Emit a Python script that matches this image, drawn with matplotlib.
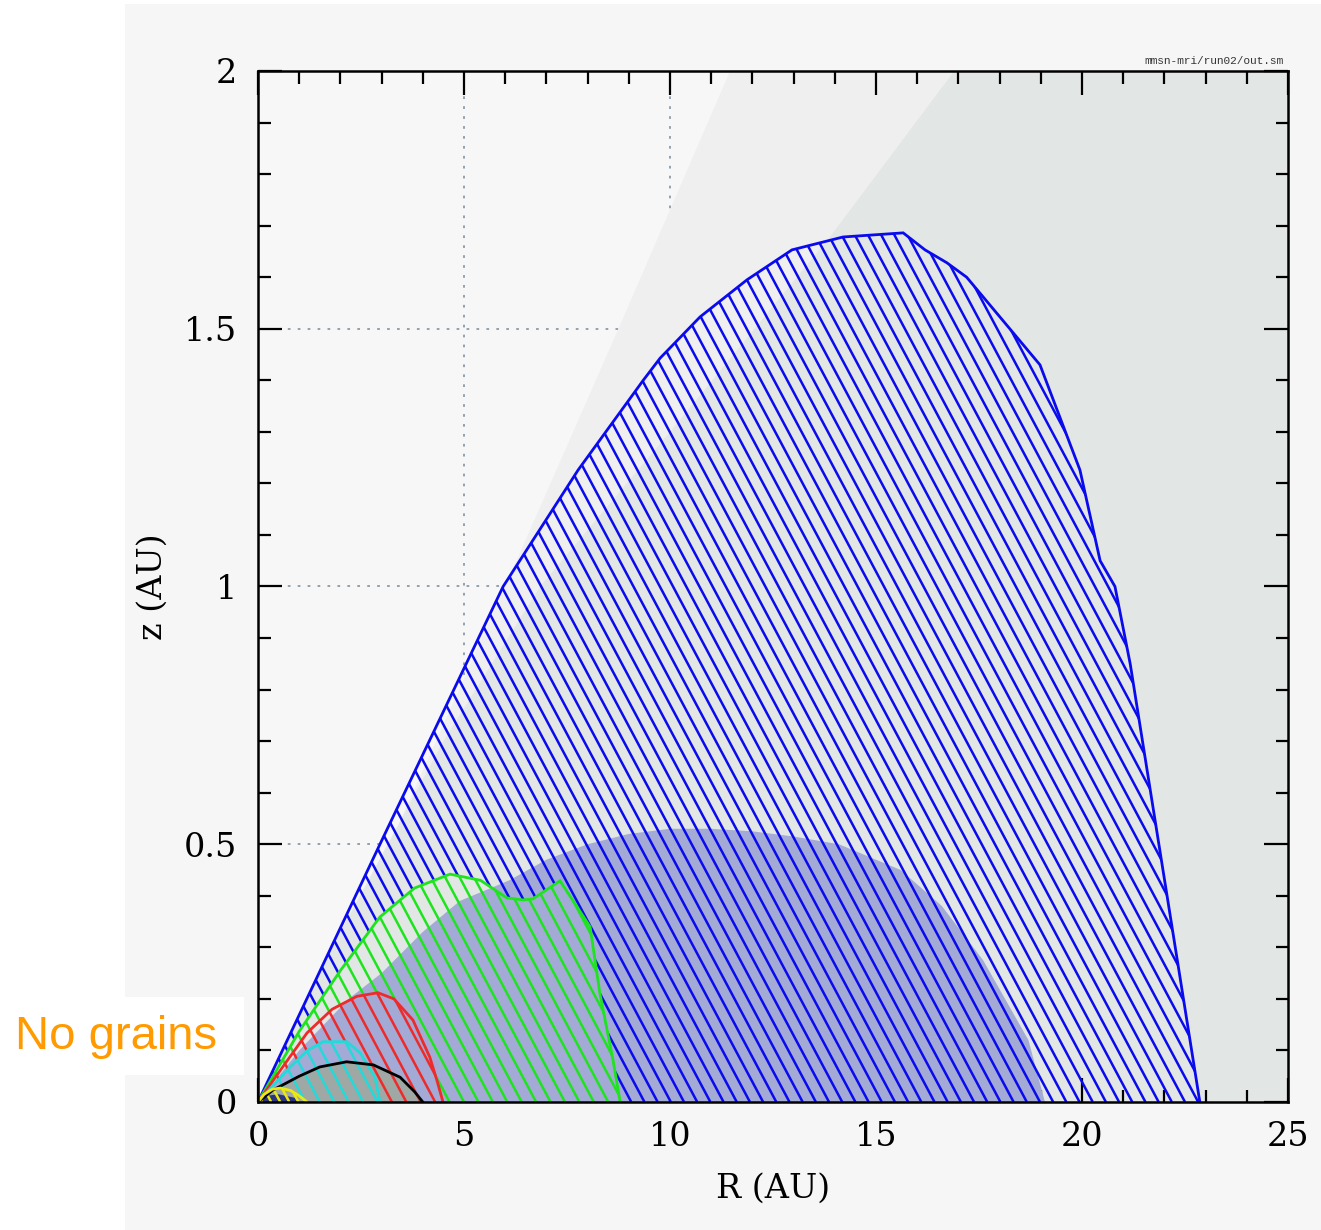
import numpy as np
import matplotlib
matplotlib.use("Agg")
from matplotlib import pyplot as plt
from matplotlib.path import Path
from matplotlib.patches import Rectangle, Polygon
from matplotlib.collections import LineCollection
from matplotlib.ticker import MultipleLocator, FuncFormatter

plt.rcParams['font.family'] = 'DejaVu Serif'

# region outlines, R (AU) and z (AU)
blue_R = [0, 2.96, 5.95, 7.77, 9.35, 9.76, 10.73, 11.87, 12.96, 14.2, 15.66, 16.19, 16.72, 17.2, 18.98, 19.95, 20.44, 20.8, 21.17, 22.86]
blue_z = [0, 0.5, 1.0, 1.226, 1.40, 1.443, 1.523, 1.595, 1.653, 1.678, 1.686, 1.653, 1.628, 1.60, 1.43, 1.226, 1.05, 1.0, 0.85, 0]

green_R = [0, 1.0, 2.0, 2.96, 3.8, 4.66, 5.4, 6.04, 6.43, 6.67, 7.33, 8.06, 8.3, 8.62, 8.79]
green_z = [0, 0.137, 0.255, 0.359, 0.415, 0.442, 0.43, 0.396, 0.392, 0.394, 0.429, 0.34, 0.21, 0.08, 0]

red_R = [0, 0.6, 1.19, 1.8, 2.4, 2.91, 3.3, 3.76, 4.17, 4.35, 4.49]
red_z = [0, 0.068, 0.134, 0.18, 0.205, 0.212, 0.2, 0.159, 0.087, 0.04, 0]

cyan_R = [0, 0.78, 1.2, 1.43, 1.58, 2.16, 2.48, 2.84, 2.96]
cyan_z = [0, 0.068, 0.1, 0.11, 0.117, 0.117, 0.095, 0.048, 0]

black_R = [0, 0.36, 1.0, 1.5, 2.15, 2.8, 3.45, 3.8, 4.0]
black_z = [0, 0.023, 0.05, 0.068, 0.078, 0.072, 0.048, 0.02, 0]

yellow_R = [0, 0.15, 0.35, 0.55, 0.8, 1.0, 1.19]
yellow_z = [0, 0.015, 0.025, 0.027, 0.022, 0.012, 0]

navy_R = [0, 0.2, 0.5, 0.9, 1.0]
navy_z = [0, 0.012, 0.015, 0.008, 0]

dome_R = [0, 1.0, 2.2, 3.0, 4.0, 4.9, 6.1, 7.0, 8.0, 9.0, 10.0, 11.0, 12.0, 13.0, 14.1, 15.6, 16.6, 17.6, 18.7, 19.1]
dome_z = [0, 0.1, 0.2, 0.25, 0.33, 0.39, 0.43, 0.47, 0.50, 0.52, 0.53, 0.53, 0.525, 0.515, 0.50, 0.45, 0.38, 0.275, 0.12, 0]

# shaded wedges (boundaries)
wedge1_R = [0, 3.2, 6.0, 8.75, 11.46]
wedge1_z = [0, 0.5, 1.0, 1.5, 2.0]
wedge2_R = [0, 2.0, 4.5, 6.85, 10.0, 13.9, 16.9]
wedge2_z = [0, 0.33, 0.7, 1.0, 1.3, 1.68, 2.0]

x_ticks = [0, 5, 10, 15, 20, 25]
y_ticks = [0, 0.5, 1, 1.5, 2]


def closed(R, z):
    return np.column_stack([R, z])


def ring(R, z, ccw=True):
    v = closed(R, z)
    area = 0.5 * np.sum(v[:, 0] * np.roll(v[:, 1], -1) - np.roll(v[:, 0], -1) * v[:, 1])
    if (area > 0) != ccw:
        v = v[::-1]
    return Path(np.vstack([v, v[:1]]), closed=True)


def hatch(ax, R, z, hole, color, spacing, slope=0.150, lw=1.8):
    outer = ring(R, z, True)
    if hole is not None:
        clip = Path.make_compound_path(outer, ring(hole[0], hole[1], False))
    else:
        clip = outer
    zt = 2.2
    segs = [[(c, 0), (c - zt / slope, zt)] for c in np.arange(0.1, 25 + zt / slope, spacing)]
    lc = LineCollection(segs, colors=color, linewidths=lw, zorder=3)
    ax.add_collection(lc)
    lc.set_clip_path(clip, ax.transData)
    ax.plot(R, z, color=color, lw=lw + 0.2, zorder=4, solid_joinstyle='miter')


fig = plt.figure(figsize=(13.21, 12.30), dpi=100, facecolor='white')
fig.add_artist(Rectangle((125 / 1321, 0), 1 - 125 / 1321, 1 - 4 / 1230,
                         transform=fig.transFigure, facecolor='#f6f6f6', edgecolor='none', zorder=-1))
fig.add_artist(Rectangle((0, (1230 - 1075) / 1230), 244 / 1321, 78 / 1230,
                         transform=fig.transFigure, facecolor='white', edgecolor='none', zorder=-0.5))

ax = fig.add_axes([258 / 1321, 128 / 1230, 1030 / 1321, 1031 / 1230])
ax.set_facecolor('#f7f7f7')
ax.set_xlim(0, 25)
ax.set_ylim(0, 2)

# dotted grid, hidden later by the shaded wedges
for xv in x_ticks[1:-1]:
    ax.axvline(xv, color='#8a9aa8', lw=1.3, ls=(0, (1.5, 4)), zorder=0.5)
for yv in y_ticks[1:-1]:
    ax.axhline(yv, color='#8a9aa8', lw=1.3, ls=(0, (1.5, 4)), zorder=0.5)

w1 = closed(wedge1_R + [25, 25], wedge1_z + [2, 0])
ax.add_patch(Polygon(w1, closed=True, facecolor='#efefef', edgecolor='none', zorder=1))
w2 = closed(wedge2_R + [25, 25], wedge2_z + [2, 0])
ax.add_patch(Polygon(w2, closed=True, facecolor='#e2e6e4', edgecolor='none', zorder=1.1))

ax.add_patch(Polygon(closed(dome_R, dome_z), closed=True, facecolor='#a3aad5', edgecolor='none', zorder=2))
ax.add_patch(Polygon(closed(black_R, black_z), closed=True, facecolor='#9fa8a4', edgecolor='none', zorder=2.1))
ax.add_patch(Polygon(closed(navy_R, navy_z), closed=True, facecolor='#2a3480', edgecolor='none', zorder=2.2))

hatch(ax, blue_R, blue_z, (green_R, green_z), '#0a0aee', 0.32)
hatch(ax, green_R, green_z, (red_R, red_z), '#1ee41e', 0.35)
hatch(ax, red_R, red_z, (cyan_R, cyan_z), '#ee2a2a', 0.35)
hatch(ax, cyan_R, cyan_z, (yellow_R, yellow_z), '#22dada', 0.35)
ax.plot(black_R, black_z, color='black', lw=2.0, zorder=4)
hatch(ax, yellow_R, yellow_z, None, '#eaea10', 0.22)

ax.xaxis.set_major_locator(MultipleLocator(5))
ax.xaxis.set_minor_locator(MultipleLocator(1))
ax.yaxis.set_major_locator(MultipleLocator(0.5))
ax.yaxis.set_minor_locator(MultipleLocator(0.1))
ax.xaxis.set_major_formatter(FuncFormatter(lambda v, p: '%g' % v))
ax.yaxis.set_major_formatter(FuncFormatter(lambda v, p: '%g' % v))
ax.tick_params(which='both', direction='in', top=True, right=True, width=1.6, labelsize=24, zorder=6)
ax.tick_params(which='major', length=17)
ax.tick_params(which='minor', length=9)
ax.tick_params(axis='x', pad=14)
ax.tick_params(axis='y', pad=15)
for s in ax.spines.values():
    s.set_linewidth(1.8)
    s.set_zorder(6)

ax.set_xlabel('R (AU)', fontsize=24, labelpad=14)
ax.set_ylabel('z (AU)', fontsize=24, labelpad=11)

fig.text(1284 / 1321, 1 - 61 / 1230, 'mmsn-mri/run02/out.sm', fontsize=8, family='Liberation Mono',
         ha='right', va='center', color='#333333')
fig.text(15 / 1321, 1 - 1037 / 1230, 'No grains', fontsize=34, family='Liberation Sans',
         color='#ff9a00', ha='left', va='center')

fig.savefig('out.png', dpi=100, facecolor=fig.get_facecolor())
